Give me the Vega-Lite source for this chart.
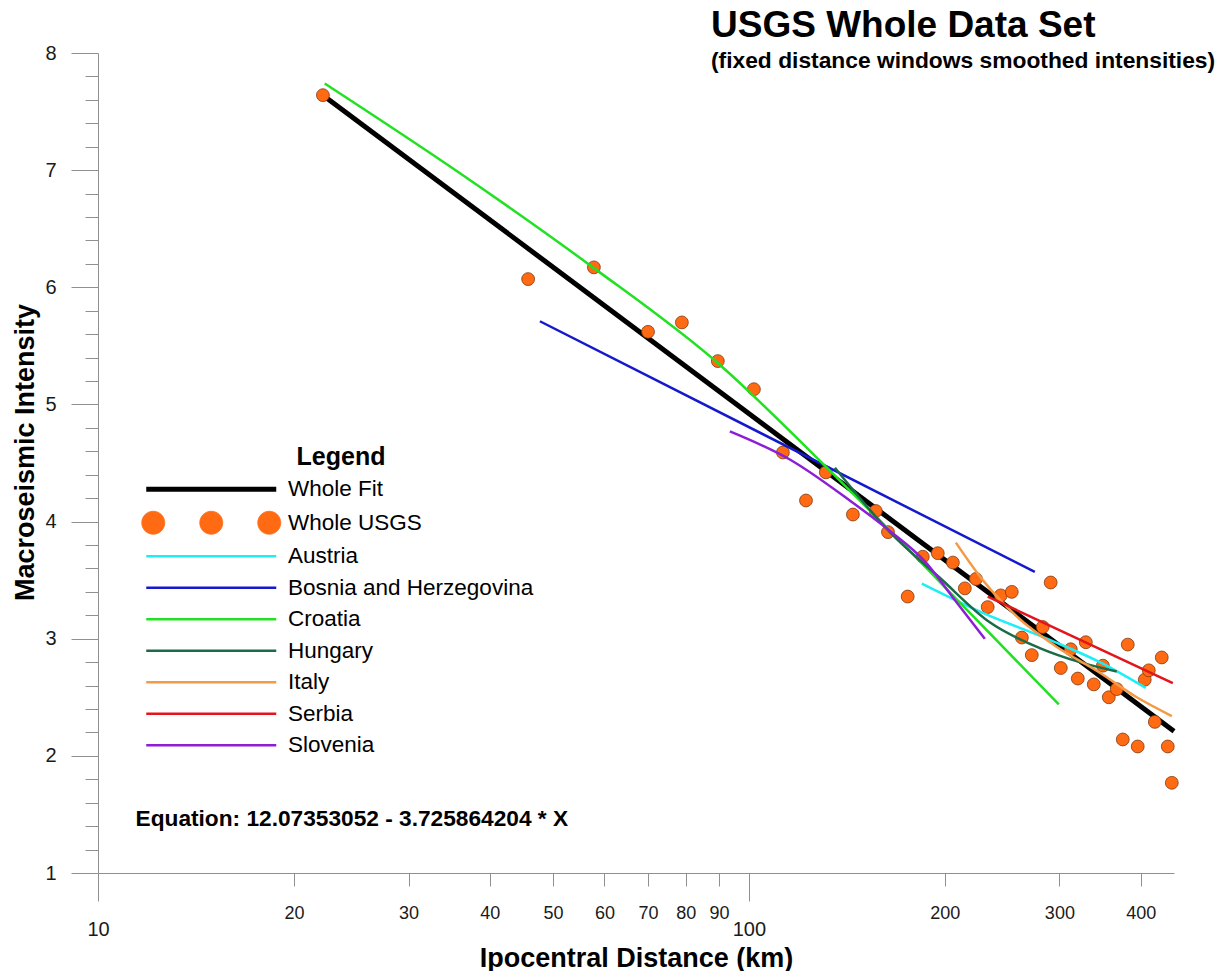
{
  "$schema": "https://vega.github.io/schema/vega-lite/v6.json",
  "width": 1076,
  "height": 820,
  "autosize": {"type": "none"},
  "padding": {"left": 98, "top": 53, "right": 49, "bottom": 98},
  "background": "white",
  "config": {"view": {"stroke": null}, "font": "Liberation Sans"},
  "title": {
    "text": "USGS Whole Data Set",
    "subtitle": "(fixed distance windows smoothed intensities)",
    "anchor": "start",
    "frame": "group",
    "dx": 613,
    "offset": -31,
    "font": "Liberation Sans",
    "fontSize": 37,
    "fontWeight": "bold",
    "color": "black",
    "subtitleFont": "Liberation Sans",
    "subtitleFontSize": 22.8,
    "subtitleFontWeight": "bold",
    "subtitleColor": "black",
    "subtitlePadding": 5
  },
  "datasets": {
    "points": [
      {"dist": 22.16, "mi": 7.64}, {"dist": 45.8, "mi": 6.07}, {"dist": 57.8, "mi": 6.17},
      {"dist": 70.0, "mi": 5.62}, {"dist": 78.9, "mi": 5.70}, {"dist": 89.6, "mi": 5.37},
      {"dist": 101.8, "mi": 5.13}, {"dist": 112.8, "mi": 4.59}, {"dist": 122.4, "mi": 4.18},
      {"dist": 131.3, "mi": 4.42}, {"dist": 144.5, "mi": 4.06}, {"dist": 156.7, "mi": 4.09},
      {"dist": 163.6, "mi": 3.91}, {"dist": 175.4, "mi": 3.36}, {"dist": 185.0, "mi": 3.70},
      {"dist": 195.1, "mi": 3.73}, {"dist": 205.8, "mi": 3.65}, {"dist": 214.7, "mi": 3.43},
      {"dist": 223.3, "mi": 3.51}, {"dist": 232.8, "mi": 3.27}, {"dist": 243.8, "mi": 3.37},
      {"dist": 253.5, "mi": 3.40}, {"dist": 262.7, "mi": 3.01}, {"dist": 272.1, "mi": 2.86},
      {"dist": 282.8, "mi": 3.10}, {"dist": 290.9, "mi": 3.48}, {"dist": 301.5, "mi": 2.75},
      {"dist": 312.3, "mi": 2.91}, {"dist": 320.2, "mi": 2.66}, {"dist": 329.4, "mi": 2.97},
      {"dist": 338.8, "mi": 2.61}, {"dist": 349.9, "mi": 2.77}, {"dist": 357.3, "mi": 2.50},
      {"dist": 367.5, "mi": 2.57}, {"dist": 375.4, "mi": 2.14}, {"dist": 382.1, "mi": 2.95},
      {"dist": 395.8, "mi": 2.08}, {"dist": 405.8, "mi": 2.65}, {"dist": 411.6, "mi": 2.73},
      {"dist": 420.5, "mi": 2.29}, {"dist": 430.9, "mi": 2.84}, {"dist": 440.2, "mi": 2.08},
      {"dist": 446.5, "mi": 1.77}
    ],
    "lines": [
      {"series": "Whole Fit", "dist": 22.16, "mi": 7.64},
      {"series": "Whole Fit", "dist": 450, "mi": 2.21},
      {"series": "Austria", "dist": 184.4, "mi": 3.47},
      {"series": "Austria", "dist": 228.8, "mi": 3.22},
      {"series": "Austria", "dist": 290.0, "mi": 2.99},
      {"series": "Austria", "dist": 346.2, "mi": 2.80},
      {"series": "Austria", "dist": 407.2, "mi": 2.58},
      {"series": "Bosnia and Herzegovina", "dist": 47.75, "mi": 5.71},
      {"series": "Bosnia and Herzegovina", "dist": 275.0, "mi": 3.57},
      {"series": "Croatia", "dist": 22.3, "mi": 7.74},
      {"series": "Croatia", "dist": 35.85, "mi": 6.98},
      {"series": "Croatia", "dist": 57.6, "mi": 6.17},
      {"series": "Croatia", "dist": 89.3, "mi": 5.36},
      {"series": "Croatia", "dist": 131.8, "mi": 4.46},
      {"series": "Croatia", "dist": 158.9, "mi": 4.01},
      {"series": "Croatia", "dist": 218.6, "mi": 3.22},
      {"series": "Croatia", "dist": 299.4, "mi": 2.44},
      {"series": "Hungary", "dist": 135.6, "mi": 4.46},
      {"series": "Hungary", "dist": 164.7, "mi": 3.91},
      {"series": "Hungary", "dist": 196.5, "mi": 3.52},
      {"series": "Hungary", "dist": 234.5, "mi": 3.14},
      {"series": "Hungary", "dist": 279.9, "mi": 2.92},
      {"series": "Hungary", "dist": 322.4, "mi": 2.80},
      {"series": "Hungary", "dist": 367.5, "mi": 2.72},
      {"series": "Italy", "dist": 208.0, "mi": 3.82},
      {"series": "Italy", "dist": 228.8, "mi": 3.50},
      {"series": "Italy", "dist": 258.0, "mi": 3.19},
      {"series": "Italy", "dist": 297.3, "mi": 2.93},
      {"series": "Italy", "dist": 346.2, "mi": 2.71},
      {"series": "Italy", "dist": 394.5, "mi": 2.50},
      {"series": "Italy", "dist": 446.5, "mi": 2.34},
      {"series": "Serbia", "dist": 232.8, "mi": 3.36},
      {"series": "Serbia", "dist": 448.1, "mi": 2.62},
      {"series": "Slovenia", "dist": 93.5, "mi": 4.77},
      {"series": "Slovenia", "dist": 115.6, "mi": 4.53},
      {"series": "Slovenia", "dist": 142.9, "mi": 4.18},
      {"series": "Slovenia", "dist": 164.7, "mi": 3.92},
      {"series": "Slovenia", "dist": 186.4, "mi": 3.66},
      {"series": "Slovenia", "dist": 207.2, "mi": 3.33},
      {"series": "Slovenia", "dist": 230.4, "mi": 3.00}
    ]
  },
  "layer": [
    {
      "data": {"name": "lines"},
      "transform": [{"filter": "datum.series === 'Whole Fit'"}],
      "mark": {"type": "line", "strokeWidth": 5},
      "encoding": {
        "x": {
          "field": "dist",
          "type": "quantitative",
          "scale": {"type": "log", "domain": [10, 450], "nice": false},
          "axis": {
            "title": "Ipocentral Distance (km)",
            "values": [10, 20, 30, 40, 50, 60, 70, 80, 90, 100, 200, 300, 400],
            "tickCount": 100,
            "labelExpr": "format(datum.value, 'd')",
            "grid": false,
            "labelFlush": false,
            "labelOverlap": false,
            "domainColor": "#909090",
            "tickColor": "#909090",
            "tickSize": {"condition": {"test": "datum.value == 10 || datum.value == 100", "value": 28}, "value": 13},
            "labelFontSize": {"condition": {"test": "datum.value == 10 || datum.value == 100", "value": 20}, "value": 18},
            "labelPadding": 18,
            "labelColor": "#1a1a1a",
            "labelFont": "Liberation Sans",
            "titleFont": "Liberation Sans",
            "titleFontSize": 27,
            "titleFontWeight": "bold",
            "titleColor": "black",
            "titleBaseline": "alphabetic",
            "titleY": 93
          }
        },
        "y": {
          "field": "mi",
          "type": "quantitative",
          "scale": {"domain": [1, 8], "nice": false, "zero": false},
          "axis": {
            "title": "Macroseismic Intensity",
            "values": [1, 1.2, 1.4, 1.6, 1.8, 2, 2.2, 2.4, 2.6, 2.8, 3, 3.2, 3.4, 3.6, 3.8, 4, 4.2, 4.4, 4.6, 4.8, 5, 5.2, 5.4, 5.6, 5.8, 6, 6.2, 6.4, 6.6, 6.8, 7, 7.2, 7.4, 7.6, 7.8, 8],
            "tickCount": 100,
            "tickMinStep": 0.1,
            "labelExpr": "datum.value % 1 == 0 ? format(datum.value, 'd') : ''",
            "grid": false,
            "labelOverlap": false,
            "labelFlush": false,
            "domainColor": "#909090",
            "tickColor": "#909090",
            "tickSize": {"condition": {"test": "datum.value % 1 == 0", "value": 27}, "value": 13},
            "labelPadding": 15,
            "labelFontSize": 20,
            "labelColor": "#1a1a1a",
            "labelFont": "Liberation Sans",
            "titleFont": "Liberation Sans",
            "titleFontSize": 27,
            "titleFontWeight": "bold",
            "titleColor": "black",
            "titleBaseline": "alphabetic",
            "titleAngle": 270,
            "titleX": -65,
            "titleY": 399
          }
        },
        "color": {
          "field": "series",
          "type": "nominal",
          "scale": {
            "domain": ["Whole Fit", "Whole USGS", "Austria", "Bosnia and Herzegovina", "Croatia", "Hungary", "Italy", "Serbia", "Slovenia"],
            "range": ["#000000", "#ff6a13", "#1ceef5", "#1419cc", "#22e022", "#1a6b48", "#f29a45", "#e3151c", "#8c1ed6"]
          },
          "legend": {
            "orient": "none",
            "legendX": 50,
            "legendY": 392,
            "padding": 0,
            "title": "Legend",
            "titleFont": "Liberation Sans",
            "titleFontSize": 25,
            "titleFontWeight": "bold",
            "titleColor": "black",
            "titleAnchor": "middle",
            "titlePadding": 8,
            "labelFont": "Liberation Sans",
            "labelFontSize": 22.5,
            "labelColor": "black",
            "labelLimit": 400,
            "symbolType": "M-13,0H13",
            "symbolSize": 100,
            "symbolOffset": 52,
            "labelOffset": 65.5,
            "rowPadding": 8.5,
            "encoding": {
              "symbols": {
                "shape": {
                  "condition": {"test": "datum.value === 'Whole USGS'", "value": "M-9.3,0A2.3,2.3,0,1,1,-13.9,0A2.3,2.3,0,1,1,-9.3,0ZM2.3,0A2.3,2.3,0,1,1,-2.3,0A2.3,2.3,0,1,1,2.3,0ZM13.9,0A2.3,2.3,0,1,1,9.3,0A2.3,2.3,0,1,1,13.9,0Z"},
                  "value": "M-13,0H13"
                },
                "fill": {
                  "condition": {"test": "datum.value === 'Whole USGS'", "value": "#ff6a13"},
                  "value": "transparent"
                },
                "stroke": {
                  "value": {"expr": "datum.value === 'Whole USGS' ? '#7f3a10' : scale('color', datum.value)"}
                },
                "strokeWidth": {
                  "value": {"expr": "(datum.value === 'Whole Fit' ? 5 : (datum.value === 'Whole USGS' ? 0.8 : 2.5))"}
                },
                "opacity": {"value": 1}
              }
            }
          }
        }
      }
    },
    {
      "data": {"name": "points"},
      "mark": {"type": "point", "filled": true, "size": 165, "fill": "#ff6a13", "stroke": "#7f3a10", "strokeWidth": 0.8, "opacity": 1, "fillOpacity": 1},
      "encoding": {
        "x": {"field": "dist", "type": "quantitative"},
        "y": {"field": "mi", "type": "quantitative"}
      }
    },
    {
      "data": {"name": "lines"},
      "transform": [{"filter": "datum.series !== 'Whole Fit'"}],
      "mark": {"type": "line", "strokeWidth": 2.5, "interpolate": "monotone"},
      "encoding": {
        "x": {"field": "dist", "type": "quantitative"},
        "y": {"field": "mi", "type": "quantitative"},
        "color": {"field": "series", "type": "nominal"}
      }
    },
    {
      "data": {"values": [{"eq": "Equation: 12.07353052 - 3.725864204 * X"}]},
      "mark": {"type": "text", "align": "left", "baseline": "middle", "font": "Liberation Sans", "fontSize": 22.7, "fontWeight": "bold", "color": "black"},
      "encoding": {
        "x": {"datum": 11.42, "type": "quantitative"},
        "y": {"datum": 1.461, "type": "quantitative"},
        "text": {"field": "eq", "type": "nominal"}
      }
    }
  ]
}
